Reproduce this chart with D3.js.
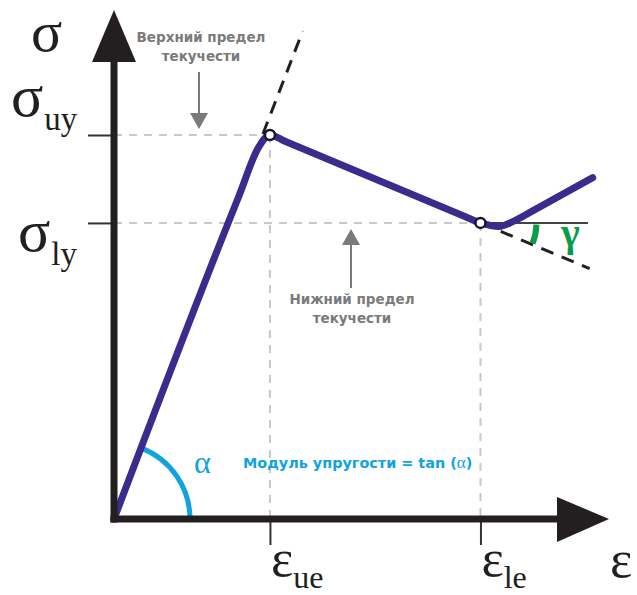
<!DOCTYPE html>
<html>
<head>
<meta charset="utf-8">
<script src="https://cdn.jsdelivr.net/npm/d3@7"></script>
<style>
  html, body { margin: 0; padding: 0; background: #fff; }
  svg { display: block; }
</style>
</head>
<body>
<svg id="chart" width="637" height="595"></svg>
<script>
// Stress–strain curve with upper and lower yield points (normalised units)
const curveStrain = [0, 0.80, 0.93, 1.00, 1.10, 2.25, 2.35, 2.47, 2.57, 2.67, 3.07];
const curveStress = [0, 0.84, 0.97, 1.00, 0.983, 0.788, 0.771, 0.762, 0.777, 0.799, 0.889];

// Yield points: [strain, stress]
const upperYield = [1.00, 1.00];
const lowerYield = [2.35, 0.771];

// Elastic modulus (slope of the linear part)
const elasticModulus = 1.05;

// Tick values and their subscript labels
const xTickValues = [1.00, 2.35];
const xTickSubs = ["ue", "le"];
const yTickValues = [1.00, 0.771];
const yTickSubs = ["uy", "ly"];

const axisLabelX = "ε";
const axisLabelY = "σ";
const upperNote = ["Верхний предел", "текучести"];
const lowerNote = ["Нижний предел", "текучести"];
const modulusNote = ["Модуль упругости = tan (", "α", ")"];

const svg = d3.select("#chart");

const x = d3.scaleLinear().domain([0, 3.2]).range([114, 613]);
const y = d3.scaleLinear().domain([0, 1]).range([519, 135]);

const ink = "#231f20";
const curveColor = "#3a2c8d";
const gridColor = "#c9c9c9";
const noteColor = "#7a7a7a";
const blue = "#10a3e0";
const green = "#0b9b4a";
const serif = "'Liberation Serif', 'DejaVu Serif', serif";
const sans = "'DejaVu Sans', Verdana, sans-serif";

// Guide lines from the yield points down to the axes
const guides = svg.append("g")
  .attr("stroke", gridColor).attr("stroke-width", 2)
  .attr("stroke-dasharray", "8,7").attr("fill", "none");
[upperYield, lowerYield].forEach(p => {
  guides.append("line")
    .attr("x1", x(0)).attr("x2", x(p[0]))
    .attr("y1", y(p[1])).attr("y2", y(p[1]));
  guides.append("line")
    .attr("x1", x(p[0])).attr("x2", x(p[0]))
    .attr("y1", y(p[1])).attr("y2", y(0));
});

// Horizontal reference at the lower yield stress (for angle γ)
svg.append("line")
  .attr("x1", x(lowerYield[0])).attr("x2", x(3.04))
  .attr("y1", y(lowerYield[1])).attr("y2", y(lowerYield[1]))
  .attr("stroke", "#444").attr("stroke-width", 2);

// Tick marks via d3 axes (labels drawn separately with subscripts)
const yAxis = svg.append("g")
  .attr("transform", `translate(${x(0)},0)`)
  .call(d3.axisLeft(y).tickValues(yTickValues).tickSize(26).tickFormat(""));
const xAxis = svg.append("g")
  .attr("transform", `translate(0,${y(0)})`)
  .call(d3.axisBottom(x).tickValues(xTickValues).tickSize(26).tickFormat(""));
[yAxis, xAxis].forEach(g => {
  g.select(".domain").remove();
  g.selectAll(".tick line").attr("stroke", "#333").attr("stroke-width", 2);
});

// Extension of the elastic line
const slopeDrop = (lowerYield[1] - upperYield[1]) / (lowerYield[0] - upperYield[0]);
const dash = svg.append("g")
  .attr("stroke", ink).attr("stroke-width", 3)
  .attr("stroke-dasharray", "13,9").attr("fill", "none");
dash.append("line")
  .attr("x1", x(0.955)).attr("y1", y(0.955 * elasticModulus))
  .attr("x2", x(1.21)).attr("y2", y(1.21 * elasticModulus));
// Extension of the drop between the yield points
dash.append("line")
  .attr("x1", x(lowerYield[0] + 0.13)).attr("y1", y(lowerYield[1] + slopeDrop * 0.13))
  .attr("x2", x(3.05)).attr("y2", y(lowerYield[1] + slopeDrop * (3.05 - lowerYield[0])));

// Angle α between the elastic line and the strain axis
const o = [x(0), y(0)];
const ex = x(0.8) - o[0], ey = o[1] - y(0.8 * elasticModulus);
const alphaStart = Math.atan2(ex, ey);
svg.append("path")
  .attr("transform", `translate(${o[0]},${o[1]})`)
  .attr("d", d3.arc()({ innerRadius: 76, outerRadius: 76, startAngle: alphaStart, endAngle: Math.PI / 2 }))
  .attr("fill", "none").attr("stroke", blue).attr("stroke-width", 5);

// Angle γ below the lower yield stress
const ly = [x(lowerYield[0]), y(lowerYield[1])];
const gdx = x(3.0) - x(2.0), gdy = y(lowerYield[1]) - y(lowerYield[1] + slopeDrop * 1.0);
const gammaEnd = Math.PI / 2 + Math.atan2(-gdy, gdx);
svg.append("path")
  .attr("transform", `translate(${ly[0]},${ly[1]})`)
  .attr("d", d3.arc()({ innerRadius: 56, outerRadius: 56, startAngle: Math.PI / 2 + 0.03, endAngle: gammaEnd - 0.02 }))
  .attr("fill", "none").attr("stroke", green).attr("stroke-width", 6);

// Main curve
const line = d3.line()
  .x((d, i) => x(curveStrain[i]))
  .y((d, i) => y(curveStress[i]))
  .curve(d3.curveMonotoneX);
svg.append("path")
  .attr("d", line(curveStrain))
  .attr("fill", "none").attr("stroke", curveColor)
  .attr("stroke-width", 7).attr("stroke-linecap", "round").attr("stroke-linejoin", "round");

// Yield point markers
svg.selectAll("circle.yield").data([upperYield, lowerYield]).join("circle")
  .attr("class", "yield")
  .attr("cx", d => x(d[0])).attr("cy", d => y(d[1]))
  .attr("r", 5).attr("fill", "#fff").attr("stroke", "#161633").attr("stroke-width", 2.5);

// Axes with arrowheads
svg.append("line")
  .attr("x1", x(0)).attr("y1", y(0) + 3.5).attr("x2", x(0)).attr("y2", 58)
  .attr("stroke", ink).attr("stroke-width", 7);
svg.append("path")
  .attr("d", `M${x(0)},10 L${x(0) - 22},62 L${x(0) + 22},62 Z`).attr("fill", ink);
svg.append("line")
  .attr("x1", x(0) - 3.5).attr("y1", y(0)).attr("x2", 562).attr("y2", y(0))
  .attr("stroke", ink).attr("stroke-width", 7);
svg.append("path")
  .attr("d", `M609,${y(0)} L557,${y(0) - 22} L557,${y(0) + 23} Z`).attr("fill", ink);

// Axis titles
svg.append("text").attr("x", 31).attr("y", 51)
  .attr("font-family", serif).attr("font-size", 58).attr("fill", ink).text(axisLabelY);
svg.append("text").attr("x", 610).attr("y", 577)
  .attr("font-family", serif).attr("font-size", 53).attr("fill", ink).text(axisLabelX);

// Tick labels with subscripts
const yLabelPos = [[11, -19], [18, 28]];
yTickValues.forEach((v, i) => {
  const t = svg.append("text")
    .attr("x", yLabelPos[i][0]).attr("y", y(v) + yLabelPos[i][1])
    .attr("font-family", serif).attr("fill", ink);
  t.append("tspan").attr("font-size", 60).text(axisLabelY);
  t.append("tspan").attr("font-size", 33).attr("dx", 1).attr("dy", 14).text(yTickSubs[i]);
});
xTickValues.forEach((v, i) => {
  const t = svg.append("text")
    .attr("x", x(v) + 1).attr("y", 576)
    .attr("font-family", serif).attr("fill", ink);
  t.append("tspan").attr("font-size", 53).text(axisLabelX);
  t.append("tspan").attr("font-size", 32).attr("dy", 12).text(xTickSubs[i]);
});

// Notes with pointer arrows
function note(lines, cx, cyTop) {
  const t = svg.append("text")
    .attr("text-anchor", "middle").attr("font-family", sans)
    .attr("font-weight", "bold").attr("font-size", 13.5).attr("fill", noteColor);
  lines.forEach((s, i) => t.append("tspan").attr("x", cx).attr("y", cyTop + i * 19).text(s));
}
note(upperNote, 201, 42);
note(lowerNote, 352, 304);

function pointer(px, yFrom, yTip) {
  const dir = yTip > yFrom ? 1 : -1;
  svg.append("line")
    .attr("x1", px).attr("x2", px).attr("y1", yFrom).attr("y2", yTip - dir * 14)
    .attr("stroke", noteColor).attr("stroke-width", 2);
  svg.append("path")
    .attr("d", `M${px},${yTip} L${px - 9},${yTip - dir * 16} L${px + 9},${yTip - dir * 16} Z`)
    .attr("fill", noteColor);
}
pointer(199, 72, 129);
pointer(351, 288, 229);

// Angle labels
svg.append("text").attr("x", 194).attr("y", 473)
  .attr("font-family", serif).attr("font-size", 32).attr("fill", blue).text("α");
const mod = svg.append("text").attr("x", 243).attr("y", 468)
  .attr("font-family", sans).attr("font-weight", "bold").attr("font-size", 14.4)
  .attr("fill", blue);
mod.append("tspan").text(modulusNote[0]);
mod.append("tspan").attr("font-family", serif).attr("font-weight", "normal")
  .attr("font-size", 17).text(modulusNote[1]);
mod.append("tspan").text(modulusNote[2]);
svg.append("text").attr("x", 561).attr("y", 246)
  .attr("font-family", serif).attr("font-weight", "bold").attr("font-size", 40)
  .attr("fill", green).text("γ");
</script>
</body>
</html>
